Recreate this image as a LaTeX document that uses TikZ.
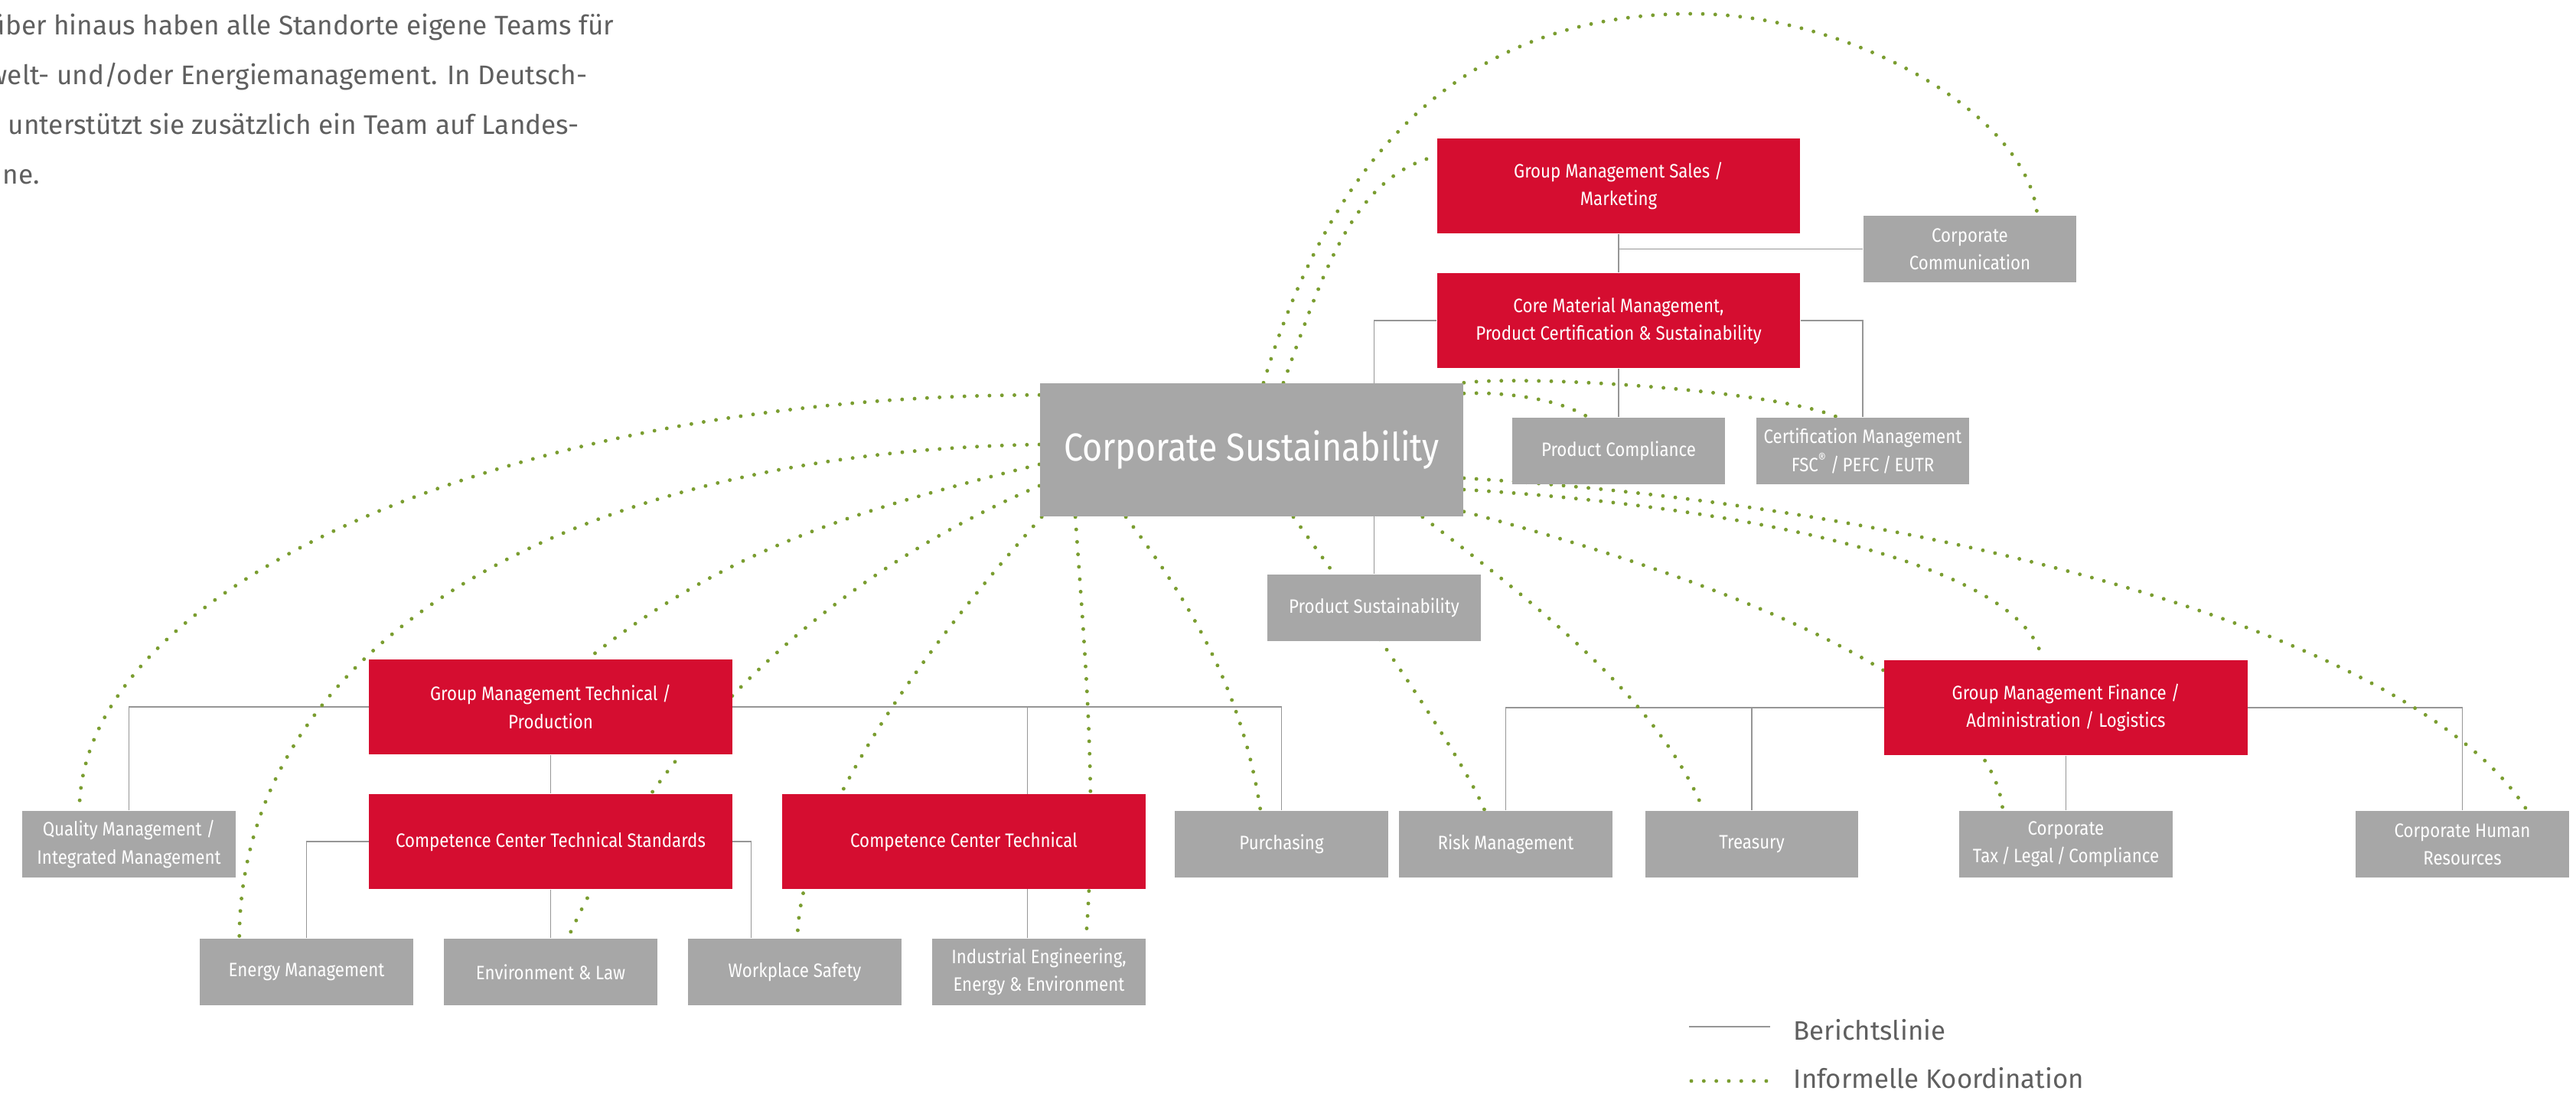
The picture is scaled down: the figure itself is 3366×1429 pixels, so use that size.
\documentclass[tikz,border=0pt]{standalone}
\usepackage{fontspec}
\setmainfont{Fira Sans}
\newfontfamily\boxfont{Fira Sans}[FakeStretch=0.88]
\usetikzlibrary{calc}
\definecolor{csred}{RGB}{213,13,48}
\definecolor{csgray}{RGB}{167,167,167}
\definecolor{csline}{RGB}{150,150,150}
\definecolor{csgreen}{RGB}{122,157,48}
\definecolor{cstext}{RGB}{95,95,95}
\pgfdeclarelayer{background}
\pgfsetlayers{background,main}

\begin{document}
\begin{tikzpicture}[x=0.01cm,y=-0.01cm,
  box/.style={inner sep=0pt,align=center,text=white,font=\boxfont\fontsize{7.2}{10.3}\selectfont},
  redbox/.style={box,fill=csred,minimum width=4.74cm,minimum height=1.24cm},
  graybox/.style={box,fill=csgray,minimum width=2.78cm,minimum height=0.87cm},
  report/.style={draw=csline,line width=0.5pt},
  informal/.style={draw=csgreen,line width=1.4pt,line cap=round,dash pattern=on 0pt off 4.64pt},
  plaintext/.style={anchor=base west,inner sep=0pt,text=cstext,font=\fontsize{10}{12}\selectfont}]
\useasboundingbox (0,0) rectangle (3366,1429);

\node[plaintext] (par1) at (-14,45) {über hinaus haben alle Standorte eigene Teams für};
\node[plaintext] (par2) at (-16,110) {welt- und/oder Energiemanagement. In Deutsch-};
\node[plaintext] (par3) at (10,175) {unterstützt sie zusätzlich ein Team auf Landes-};
\node[plaintext] (par4) at (3,240) {ne.};

\node[redbox] (sales) at (2115,243) {Group Management Sales /\\Marketing};
\node[redbox] (core) at (2115,419) {Core Material Management,\\Product Certification \& Sustainability};
\node[graybox] (comm) at (2574,325.5) {Corporate\\Communication};
\node[graybox,minimum width=5.53cm,minimum height=1.74cm,font=\boxfont\fontsize{14.5}{17}\selectfont] (cs) at (1635.5,588) {Corporate Sustainability};
\node[graybox] (pc) at (2115,589.5) {Product Compliance};
\node[graybox] (cert) at (2434,589.5) {Certification Management\\FSC\textsuperscript{\textregistered}\,/\,PEFC\,/\,EUTR};
\node[graybox] (ps) at (1795.5,794.5) {Product Sustainability};

\node[redbox] (gmt) at (719.5,924) {Group Management Technical /\\Production};
\node[redbox] (gmf) at (2699.5,925) {Group Management Finance /\\Administration / Logistics};
\node[redbox] (ccts) at (719.5,1100) {Competence Center Technical Standards};
\node[redbox] (cct) at (1259.5,1100) {Competence Center Technical};

\node[graybox] (qm) at (168.5,1103.5) {Quality Management /\\Integrated Management};
\node[graybox] (purch) at (1674.5,1103.5) {Purchasing};
\node[graybox] (risk) at (1967.5,1103.5) {Risk Management};
\node[graybox] (treas) at (2289,1103.5) {Treasury};
\node[graybox] (tax) at (2699.5,1103.5) {Corporate\\Tax\,/\,Legal\,/\,Compliance};
\node[graybox] (hr) at (3217.5,1103.5) {Corporate Human\\Resources};

\node[graybox] (energy) at (400.5,1270.5) {Energy Management};
\node[graybox] (env) at (719.5,1270.5) {Environment \& Law};
\node[graybox] (ws) at (1038.5,1270.5) {Workplace Safety};
\node[graybox] (indeng) at (1357.5,1270.5) {Industrial Engineering,\\Energy \& Environment};

\begin{pgfonlayer}{background}
\draw[report] (sales.south) -- (core.north);
\draw[report] (sales.south |- comm.west) -- (comm.west);
\draw[report] (core.west) -| (ps.north);
\draw[report] (core.east) -| (cert.north);
\draw[report] (core.south) -- (pc.north);
\draw[report] (gmt.west) -| (qm.north);
\draw[report] (gmt.east) -| (purch.north);
\draw[report] ($(indeng.north)+(-15,0)$) |- (gmt.east);
\draw[report] (gmt.south) -- (ccts.north);
\draw[report] (ccts.west) -| (energy.north);
\draw[report] (ccts.east) -| ($(ws.north)+(-57,0)$);
\draw[report] (ccts.south) -- (env.north);
\draw[report] (gmf.west) -| (risk.north);
\draw[report] (gmf.west) -| (treas.north);
\draw[report] (gmf.south) -- (tax.north);
\draw[report] (gmf.east) -| (hr.north);

\draw[informal] ($(cs.north west)+(0,16)$) .. controls (667,517) and (105,765) .. ($(qm.north west)+(75,0)$);
\draw[informal] ($(cs.west)+(0,-7)$) .. controls (739,591) and (314,844) .. ($(energy.north west)+(52,0)$);
\draw[informal] ($(cs.west)+(0,19)$) .. controls (1109,669) and (948,719) .. ($(gmt.north)+(48.5,0)$);
\draw[informal] ($(cs.west)+(0,47)$) .. controls (1059,764) and (855,978) .. ($(env.north)+(22.5,0)$);
\draw[informal] ($(cs.south west)+(3,0)$) .. controls (1250,800) and (1045,1050) .. ($(ws.north)+(3.5,0)$);
\draw[informal] ($(cs.south west)+(47,0)$) .. controls (1418,860) and (1434,1040) .. ($(indeng.north)+(61.5,0)$);
\draw[informal] ($(cs.south west)+(113,0)$) .. controls (1562,795) and (1625,912) .. ($(purch.north)+(-27.5,0)$);
\draw[informal] ($(cs.south)+(54.5,0)$) .. controls (1740,745) and (1905,975) .. ($(risk.north)+(-27.5,0)$);
\draw[informal] ($(cs.south east)+(-54,0)$) .. controls (2001,785) and (2166,912) .. ($(treas.north)+(-63,0)$);
\draw[informal] ($(cs.south east)+(0,-7)$) .. controls (2200,745) and (2600,880) .. ($(tax.north)+(-82.5,0)$);
\draw[informal] ($(cs.east)+(0,52)$) .. controls (2250,660) and (2640,730) .. ($(gmf.north)+(-30.5,0)$);
\draw[informal] ($(cs.east)+(0,37)$) .. controls (2500,660) and (3150,820) .. ($(hr.north)+(84.5,0)$);
\draw[informal] ($(cs.north east)+(0,14)$) .. controls (1960,512) and (2035,520) .. ($(pc.north)+(-40,0)$);
\draw[informal] (cs.north east) .. controls (2000,490) and (2320,510) .. ($(cert.north)+(-33,0)$);
\draw[informal] ($(cs.north)+(41.5,0)$) .. controls (1731,352) and (1768,231) .. ($(sales.west)+(0,-39)$);
\draw[informal] ($(cs.north)+(15.5,0)$) .. controls (1741,202) and (1911,18) .. (2211,18)
  .. controls (2420,18) and (2650,150) .. ($(comm.north)+(88,0)$);
\end{pgfonlayer}

\coordinate (rep0) at (2207,1342);
\coordinate (rep1) at (2313,1342);
\draw[report] (rep0) -- (rep1);
\node[plaintext,font=\fontsize{9.9}{12}\selectfont] (reptext) at (2343,1359) {Berichtslinie};
\coordinate (inf0) at (2210,1413);
\coordinate (inf1) at (2316,1413);
\draw[informal] (inf0) -- (inf1);
\node[plaintext,font=\fontsize{9.9}{12}\selectfont] (inftext) at (2343,1422) {Informelle Koordination};
\end{tikzpicture}
\end{document}
